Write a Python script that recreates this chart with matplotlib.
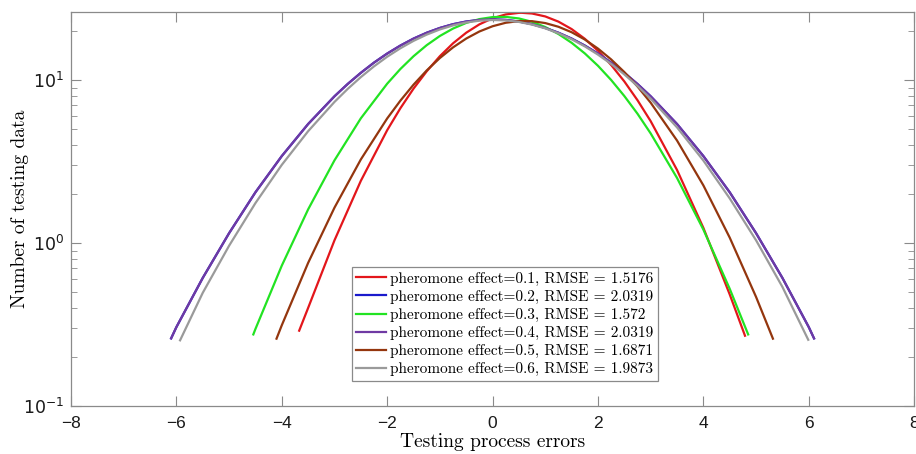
import matplotlib
matplotlib.use("Agg")
import matplotlib.pyplot as plt
from matplotlib.ticker import LogLocator, FixedLocator

plt.rcParams["mathtext.fontset"] = "custom"
plt.rcParams["mathtext.rm"] = "Liberation Sans"
plt.rcParams["mathtext.it"] = "Liberation Sans:italic"

# curves (x, count)
x_red = [-3.67, -3.5, -3, -2.5, -2, -1.75, -1.5, -1.25, -1, -0.75, -0.5, -0.25, 0, 0.25, 0.5,
         0.55, 0.75, 1, 1.25, 1.5, 1.75, 2, 2.25, 2.5, 2.75, 3, 3.5, 4, 4.5, 4.79]
y_red = [0.29, 0.40, 1.04, 2.41, 4.93, 6.72, 8.87, 11.33, 14.03, 16.83, 19.55, 22.00, 23.98, 25.31, 25.88,
         25.9, 25.64, 24.60, 22.86, 20.58, 17.94, 15.15, 12.39, 9.82, 7.53, 5.60, 2.81, 1.24, 0.484, 0.27]

x_green = [-4.54, -4.5, -4, -3.5, -3, -2.5, -2, -1.75, -1.5, -1.25, -1, -0.75, -0.5, -0.25, 0,
           0.25, 0.5, 0.75, 1, 1.25, 1.5, 1.75, 2, 2.25, 2.5, 2.75, 3, 3.5, 4, 4.5, 4.85]
y_green = [0.275, 0.297, 0.727, 1.61, 3.22, 5.83, 9.51, 11.70, 14.02, 16.39, 18.67, 20.73, 22.45, 23.69, 24.38,
           24.45, 23.91, 22.80, 21.18, 19.19, 16.95, 14.59, 12.25, 10.02, 7.99, 6.22, 4.71, 2.51, 1.21, 0.524, 0.275]

x_purple = [-6.1, -6, -5.5, -5, -4.5, -4, -3.5, -3, -2.75, -2.5, -2.25, -2, -1.75, -1.5, -1.25, -1,
            -0.75, -0.5, -0.25, 0, 0.25, 0.5, 0.75, 1, 1.25, 1.5, 1.75, 2, 2.25, 2.5, 2.75, 3,
            3.5, 4, 4.5, 5, 5.5, 6, 6.1]
y_purple = [0.26, 0.305, 0.611, 1.15, 2.05, 3.42, 5.38, 7.96, 9.47, 11.09, 12.81, 14.56, 16.30, 17.99, 19.54, 20.91,
            22.05, 22.90, 23.42, 23.6, 23.42, 22.90, 22.05, 20.91, 19.54, 17.99, 16.30, 14.56, 12.81, 11.09, 9.47, 7.96,
            5.38, 3.42, 2.05, 1.15, 0.611, 0.305, 0.26]

x_brown = [-4.1, -4, -3.5, -3, -2.5, -2, -1.75, -1.5, -1.25, -1, -0.75, -0.5, -0.25, 0, 0.25,
           0.5, 0.75, 1, 1.25, 1.5, 1.75, 2, 2.25, 2.5, 2.75, 3, 3.5, 4, 4.5, 5, 5.32]
y_brown = [0.259, 0.313, 0.756, 1.65, 3.26, 5.82, 7.48, 9.38, 11.47, 13.67, 15.89, 18.00, 19.89, 21.42, 22.50,
           23.04, 23.01, 22.40, 21.26, 19.68, 17.76, 15.62, 13.40, 11.21, 9.14, 7.27, 4.26, 2.26, 1.08, 0.467, 0.259]

x_gray = [-5.93, -5.5, -5, -4.5, -4, -3.5, -3, -2.75, -2.5, -2.25, -2, -1.75, -1.5, -1.25, -1, -0.75,
          -0.5, -0.25, 0, 0.25, 0.5, 0.75, 1, 1.25, 1.5, 1.75, 2, 2.25, 2.5, 2.75, 3, 3.5, 4, 4.5,
          5, 5.5, 5.99]
y_gray = [0.253, 0.495, 0.963, 1.76, 3.02, 4.86, 7.35, 8.83, 10.44, 12.15, 13.92, 15.69, 17.42, 19.03, 20.47, 21.67,
          22.59, 23.17, 23.40, 23.26, 22.76, 21.92, 20.78, 19.40, 17.82, 16.12, 14.34, 12.57, 10.84, 9.21, 7.69, 5.13,
          3.21, 1.88, 1.04, 0.538, 0.255]

effects = [0.1, 0.2, 0.3, 0.4, 0.5, 0.6]
rmse = ["1.5176", "2.0319", "1.572", "2.0319", "1.6871", "1.9873"]

# 0.2 and 0.4 have the same fit, the blue one is hidden under purple
series = [(x_red, y_red), (x_purple, y_purple), (x_green, y_green),
          (x_purple, y_purple), (x_brown, y_brown), (x_gray, y_gray)]
colors = ["#e3161b", "#1a1acc", "#22e322", "#6f3aa3", "#94360e", "#9a9a9a"]

fig = plt.figure(figsize=(9.16, 4.54), dpi=100)
ax = fig.add_axes([0.0775, 0.1057, 0.9205, 0.8673])

for (xs, ys), c, e, r in zip(series, colors, effects, rmse):
    ax.plot(xs, ys, color=c, lw=1.6, label=f"pheromone effect={e}, RMSE = {r}")

ax.set_yscale("log")
ax.set_xlim(-8, 8)
ax.set_ylim(0.1, 26.1)
ax.xaxis.set_major_locator(FixedLocator([-8, -6, -4, -2, 0, 2, 4, 6, 8]))
ax.yaxis.set_major_locator(LogLocator(base=10))
ax.yaxis.set_minor_locator(LogLocator(base=10, subs=range(2, 10)))
ax.yaxis.set_minor_formatter(plt.NullFormatter())

for s in ax.spines.values():
    s.set_color("#8a8a8a")
    s.set_linewidth(0.9)
ax.tick_params(which="both", direction="in", top=True, right=True, color="#8a8a8a",
               labelsize=12.5, labelcolor="#1a1a1a")
ax.tick_params(which="major", length=7)
ax.tick_params(which="minor", length=4)
ax.tick_params(axis="x", pad=7)
ax.tick_params(axis="y", pad=5)
for lab in ax.get_xticklabels():
    lab.set_family("Liberation Sans")

ax.set_xlabel("Testing process errors", family="cmr10", fontsize=14)
ax.set_ylabel("Number of testing data", family="cmr10", fontsize=14)
ax.xaxis.set_label_coords(0.5, -0.069)
ax.yaxis.set_label_coords(-0.05, 0.5)

leg = ax.legend(loc="lower left", bbox_to_anchor=(0.333, 0.0635), borderaxespad=0,
                prop={"family": "cmr10", "size": 11}, fancybox=False, framealpha=1,
                edgecolor="#8a8a8a", handlelength=1.96, handletextpad=0.26,
                labelspacing=0.27, borderpad=0.3)
leg.get_frame().set_linewidth(0.9)

fig.savefig("out.png", dpi=100)
